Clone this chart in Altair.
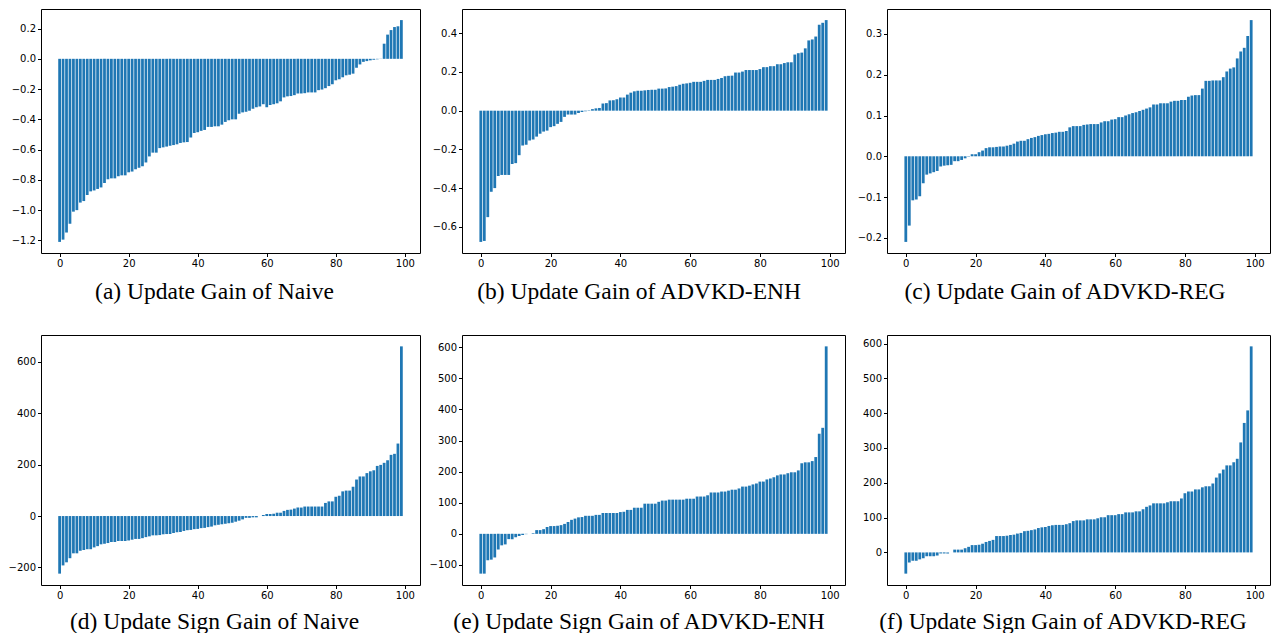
import altair as alt
import pandas as pd

# ---------------- data ----------------
gain_naive = [-1.21, -1.195, -1.148, -1.09, -1.01, -1.0, -0.95, -0.94, -0.90, -0.876,
              -0.87, -0.86, -0.85, -0.82, -0.796, -0.79, -0.79, -0.776, -0.77, -0.77,
              -0.75, -0.745, -0.73, -0.72, -0.71, -0.685, -0.645, -0.62, -0.62, -0.59,
              -0.585, -0.58, -0.575, -0.57, -0.565, -0.556, -0.552, -0.55, -0.52, -0.49,
              -0.485, -0.476, -0.47, -0.45, -0.45, -0.446, -0.446, -0.435, -0.417, -0.406,
              -0.40, -0.40, -0.363, -0.354, -0.35, -0.343, -0.33, -0.32, -0.315, -0.30,
              -0.32, -0.305, -0.30, -0.294, -0.281, -0.255, -0.248, -0.246, -0.24, -0.229,
              -0.229, -0.227, -0.222, -0.222, -0.222, -0.207, -0.203, -0.194, -0.18, -0.168,
              -0.142, -0.135, -0.122, -0.109, -0.105, -0.098, -0.059, -0.037, -0.02, -0.015,
              -0.01, -0.006, -0.003, -0.001, 0.10, 0.16, 0.19, 0.21, 0.215, 0.256]

gain_enh = [-0.678, -0.673, -0.55, -0.419, -0.40, -0.337, -0.332, -0.332, -0.332, -0.276,
            -0.271, -0.23, -0.18, -0.176, -0.154, -0.149, -0.134, -0.119, -0.108, -0.103,
            -0.085, -0.08, -0.068, -0.058, -0.032, -0.02, -0.02, -0.02, -0.012, -0.007,
            -0.003, 0.002, 0.008, 0.012, 0.014, 0.037, 0.039, 0.053, 0.054, 0.059,
            0.068, 0.068, 0.083, 0.093, 0.10, 0.103, 0.103, 0.105, 0.107, 0.108,
            0.108, 0.114, 0.114, 0.115, 0.122, 0.124, 0.127, 0.134, 0.139, 0.141,
            0.144, 0.149, 0.149, 0.149, 0.154, 0.159, 0.159, 0.159, 0.164, 0.169,
            0.178, 0.18, 0.181, 0.197, 0.197, 0.202, 0.21, 0.21, 0.21, 0.21,
            0.215, 0.225, 0.225, 0.23, 0.23, 0.24, 0.24, 0.246, 0.25, 0.25,
            0.29, 0.297, 0.30, 0.322, 0.363, 0.368, 0.383, 0.444, 0.454, 0.468]

gain_reg = [-0.21, -0.17, -0.108, -0.106, -0.098, -0.066, -0.045, -0.042, -0.039, -0.036,
            -0.025, -0.023, -0.022, -0.021, -0.012, -0.012, -0.009, -0.005, -0.001, 0.005,
            0.005, 0.01, 0.014, 0.02, 0.022, 0.022, 0.023, 0.024, 0.024, 0.026,
            0.028, 0.031, 0.036, 0.038, 0.038, 0.042, 0.045, 0.047, 0.05, 0.052,
            0.054, 0.055, 0.057, 0.058, 0.06, 0.06, 0.062, 0.071, 0.074, 0.074,
            0.074, 0.077, 0.078, 0.079, 0.079, 0.079, 0.083, 0.086, 0.086, 0.09,
            0.091, 0.096, 0.096, 0.10, 0.103, 0.106, 0.108, 0.111, 0.114, 0.117,
            0.12, 0.127, 0.127, 0.13, 0.13, 0.13, 0.134, 0.136, 0.136, 0.138,
            0.138, 0.146, 0.149, 0.15, 0.15, 0.166, 0.185, 0.185, 0.186, 0.186,
            0.186, 0.194, 0.208, 0.215, 0.218, 0.24, 0.257, 0.266, 0.295, 0.334]

sign_naive = [-224, -192, -180, -164, -145, -145, -135, -132, -129, -129,
              -122, -117, -110, -108, -105, -101, -101, -97, -97, -97,
              -95, -92, -89, -89, -86, -82, -79, -75, -75, -74,
              -71, -70, -70, -66, -63, -62, -58, -55, -54, -51,
              -50, -47, -46, -43, -41, -36, -34, -32, -30, -28,
              -26, -22, -18, -13, -7, -7, -5, -5, 0, 4,
              8, 8, 9, 13, 13, 20, 24, 25, 29, 33,
              33, 37, 37, 37, 37, 37, 37, 51, 57, 57,
              75, 79, 96, 99, 99, 114, 142, 154, 154, 167,
              174, 178, 195, 199, 207, 217, 238, 242, 282, 660]

sign_enh = [-128, -128, -85, -83, -76, -50, -37, -34, -17, -17,
            -11, -7, -4, -1, 0, 2, 12, 12, 15, 22,
            25, 25, 26, 28, 32, 38, 45, 49, 53, 54,
            58, 58, 58, 61, 61, 67, 67, 67, 67, 67,
            70, 71, 77, 77, 84, 84, 84, 97, 97, 97,
            97, 103, 107, 107, 110, 110, 110, 110, 110, 113,
            113, 113, 120, 120, 120, 124, 133, 133, 133, 136,
            136, 139, 142, 142, 146, 152, 152, 155, 159, 162,
            168, 168, 175, 178, 182, 188, 191, 191, 195, 198,
            198, 204, 227, 230, 230, 234, 247, 322, 341, 603]

sign_reg = [-61, -29, -24, -24, -20, -17, -11, -11, -11, -9,
            -3, -3, -3, 0, 8, 8, 8, 12, 16, 21,
            21, 22, 25, 30, 33, 36, 47, 47, 47, 48,
            50, 51, 54, 56, 61, 62, 64, 66, 70, 72,
            73, 76, 78, 79, 79, 79, 81, 84, 90, 92,
            92, 92, 95, 95, 95, 98, 101, 101, 107, 107,
            107, 110, 110, 115, 115, 115, 118, 118, 124, 131,
            135, 141, 141, 141, 141, 144, 147, 147, 147, 155,
            170, 175, 175, 181, 181, 187, 190, 190, 198, 215,
            227, 238, 250, 250, 259, 269, 316, 372, 408, 592]

captions = ["(a) Update Gain of Naive", "(b) Update Gain of ADVKD-ENH",
            "(c) Update Gain of ADVKD-REG", "(d) Update Sign Gain of Naive",
            "(e) Update Sign Gain of ADVKD-ENH", "(f) Update Sign Gain of ADVKD-REG"]

x_ticks = [0, 20, 40, 60, 80, 100]
yticks_a = [-1.2, -1.0, -0.8, -0.6, -0.4, -0.2, 0.0, 0.2]
yticks_b = [-0.6, -0.4, -0.2, 0.0, 0.2, 0.4]
yticks_c = [-0.2, -0.1, 0.0, 0.1, 0.2, 0.3]
yticks_d = [-200, 0, 200, 400, 600]
yticks_e = [-100, 0, 100, 200, 300, 400, 500, 600]
yticks_f = [0, 100, 200, 300, 400, 500, 600]

BAR = "#1f77b4"


def panel(vals, yticks, fmt, caption, w, h, tx, ty):
    n = len(vals)
    df = pd.DataFrame({"i": list(range(n)), "v": vals})
    lo = min(min(vals), 0)
    hi = max(max(vals), 0)
    m = 0.05 * (hi - lo)
    xm = 0.05 * (n - 1 + 0.8)
    return (
        alt.Chart(df)
        .transform_calculate(x0="datum.i - 0.4", x1="datum.i + 0.4")
        .mark_bar(color=BAR)
        .encode(
            x=alt.X("x0:Q",
                    scale=alt.Scale(domain=[-0.4 - xm, n - 1 + 0.4 + xm], nice=False, zero=False),
                    axis=alt.Axis(values=x_ticks, format="d", title=caption,
                                  titleX=tx, titleY=ty, titleAlign="center",
                                  titleBaseline="alphabetic", titleAnchor="start")),
            x2="x1:Q",
            y=alt.Y("v:Q",
                    scale=alt.Scale(domain=[lo - m, hi + m], nice=False, zero=False),
                    axis=alt.Axis(values=yticks, format=fmt, title=None)),
            y2=alt.datum(0),
        )
        .properties(width=w, height=h)
    )


W1, W2, W3 = 379, 383, 383
H1, H2 = 244, 250
pa = panel(gain_naive, yticks_a, ".1f", captions[0], W1, H1, 173, 45)
pb = panel(gain_enh, yticks_b, ".1f", captions[1], W2, H1, 176.6, 45)
pc = panel(gain_reg, yticks_c, ".1f", captions[2], W3, H1, 177.5, 45)
pd_ = panel(sign_naive, yticks_d, "d", captions[3], W1, H2, 173, 43)
pe = panel(sign_enh, yticks_e, "d", captions[4], W2, H2, 176.5, 43)
pf = panel(sign_reg, yticks_f, "d", captions[5], W3, H2, 175.5, 43)

chart = (
    alt.concat(pa, pb, pc, pd_, pe, pf, columns=3, spacing={"row": 82, "column": 42})
    .properties(bounds="flush", padding={"left": -1, "top": 0, "right": 0, "bottom": 0})
    .configure_view(stroke="#000000", strokeWidth=1)
    .configure_axis(
        domain=False, grid=False,
        tickSize=3.5, tickColor="#000000", tickWidth=1,
        labelFont="DejaVu Sans", labelFontSize=10, labelColor="#000000", labelPadding=2,
        titleFont="Liberation Serif", titleFontSize=23.5, titleFontWeight="normal",
        titleColor="#000000",
    )
)

chart.save("out.html", embed_options={"renderer": "svg", "actions": False})
